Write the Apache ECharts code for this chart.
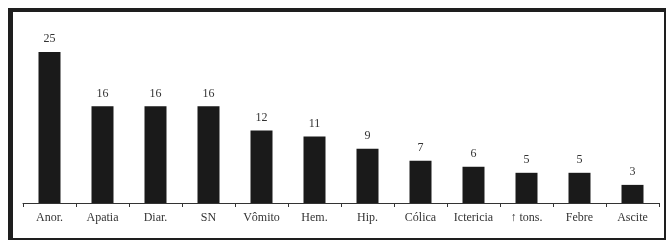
<!DOCTYPE html>
<html>
<head>
<meta charset="utf-8">
<script src="https://cdn.jsdelivr.net/npm/echarts@6/dist/echarts.min.js"></script>
<style>
  html, body { margin: 0; padding: 0; background: #fff; }
  #chart { width: 669px; height: 242px; }
</style>
</head>
<body>
<div id="chart"></div>
<script>
// sintomas e número de casos
var categories = ['Anor.', 'Apatia', 'Diar.', 'SN', 'Vômito', 'Hem.', 'Hip.', 'Cólica', 'Ictericia', '↑ tons.', 'Febre', 'Ascite'];
var values = [25, 16, 16, 16, 12, 11, 9, 7, 6, 5, 5, 3];

var myChart = echarts.init(document.getElementById('chart'));

var option = {
    animation: false,
    textStyle: { fontFamily: 'Liberation Serif' },
    graphic: [
        // moldura: borda grossa em cima/esquerda, fina embaixo/direita
        { type: 'rect', z: -10, shape: { x: 8, y: 8, width: 658, height: 232 }, style: { fill: '#1e1e1e' } },
        { type: 'rect', z: -9, shape: { x: 13, y: 12, width: 651, height: 226 }, style: { fill: '#fff' } }
    ],
    grid: { left: 23, right: 10, top: 52, bottom: 39 },
    xAxis: {
        type: 'category',
        data: categories,
        axisLine: { lineStyle: { color: '#333', width: 1 } },
        axisTick: { show: true, length: 4, lineStyle: { color: '#333' } },
        axisLabel: { color: '#333', fontSize: 12, margin: 9, fontFamily: 'Liberation Serif', interval: 0 }
    },
    yAxis: {
        type: 'value',
        min: 0,
        max: 25,
        show: false
    },
    series: [
        {
            type: 'bar',
            data: values,
            barWidth: 22,
            itemStyle: { color: '#1a1a1a' },
            label: {
                show: true,
                position: 'top',
                distance: 7,
                color: '#333',
                fontSize: 12,
                fontFamily: 'Liberation Serif'
            }
        }
    ]
};
myChart.setOption(option);
</script>
</body>
</html>
